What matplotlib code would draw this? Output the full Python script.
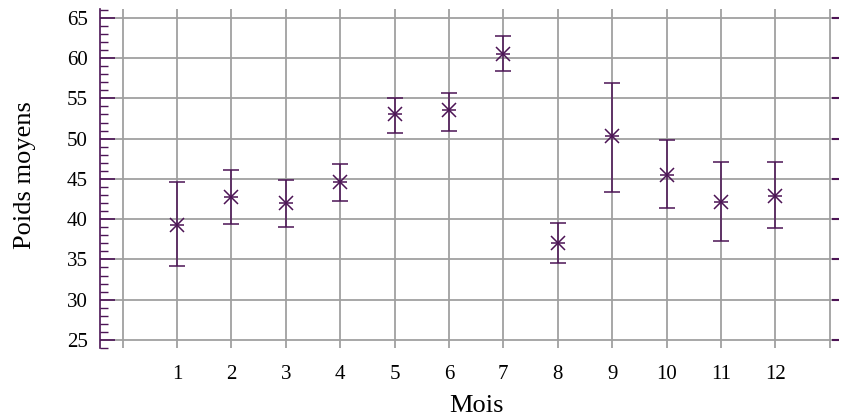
import numpy as np
import matplotlib
matplotlib.use('Agg')
import matplotlib.pyplot as plt

# monthly means and error bar ends
mois = [1, 2, 3, 4, 5, 6, 7, 8, 9, 10, 11, 12]
moyennes = [39.3, 42.7, 42.0, 44.6, 53.0, 53.5, 60.5, 37.0, 50.3, 45.5, 42.1, 42.9]
hauts = [44.6, 46.1, 44.9, 46.8, 55.0, 55.7, 62.7, 39.5, 56.9, 49.8, 47.1, 47.1]
bas = [34.2, 39.4, 39.0, 42.2, 50.7, 50.9, 58.4, 34.5, 43.4, 41.4, 37.3, 38.9]
xticks = list(range(0, 14))
xlabels = ['' if (t == 0 or t == 13) else str(t) for t in xticks]
yticks = list(range(25, 70, 5))

COL = '#4c1455'
GRID = '#a0a0a0'

plt.rcParams['font.family'] = ['Liberation Serif', 'DejaVu Serif']

fig = plt.figure(figsize=(8.42, 4.19), dpi=100)
ax = fig.add_axes([100 / 842, 71 / 419, 739 / 842, 339 / 419])

m = np.array(moyennes)
err = [m - np.array(bas), np.array(hauts) - m]
ax.errorbar(mois, moyennes, yerr=err, fmt='none', ecolor=COL, elinewidth=1.1,
            capsize=6, capthick=1.1, zorder=3)
ax.plot(mois, moyennes, linestyle='none', marker='x', markersize=10,
        markeredgewidth=1.1, color=COL, zorder=4)
ax.plot(mois, moyennes, linestyle='none', marker='_', markersize=10,
        markeredgewidth=1.1, color=COL, zorder=4)

ax.set_xlim(-0.415, 13.17)
ax.set_ylim(24.0, 66.1)
ax.set_xticks(xticks)
ax.set_xticklabels(xlabels)
ax.set_yticks(yticks)
ax.set_yticks(range(24, 67), minor=True)

ax.grid(True, which='major', color=GRID, linewidth=1.3)
ax.set_axisbelow(True)

for s in ['top', 'bottom', 'right']:
    ax.spines[s].set_visible(False)
ax.spines['left'].set_color(COL)
ax.spines['left'].set_linewidth(1.2)

ax.tick_params(axis='x', which='both', length=0, pad=12, labelsize=15)
ax.tick_params(axis='y', which='major', direction='in', length=11, width=1.2,
               color=COL, pad=9, labelsize=15)
ax.tick_params(axis='y', which='minor', direction='in', length=6, width=1.0,
               color=COL)

# short ticks on the right side
ax2 = ax.twinx()
ax2.set_ylim(ax.get_ylim())
ax2.set_yticks(yticks)
ax2.set_yticklabels([])
ax2.yaxis.set_minor_locator(plt.NullLocator())
for s in ax2.spines.values():
    s.set_visible(False)
ax2.tick_params(axis='y', which='major', direction='in', length=5, width=1.5,
                color=COL)

ax.set_xlabel('Mois', fontsize=19)
ax.xaxis.set_label_coords(0.509, -0.14)
ax.set_ylabel('Poids moyens', fontsize=19)
ax.yaxis.set_label_coords(-0.087, 0.51)

fig.savefig('out.png', dpi=100)
